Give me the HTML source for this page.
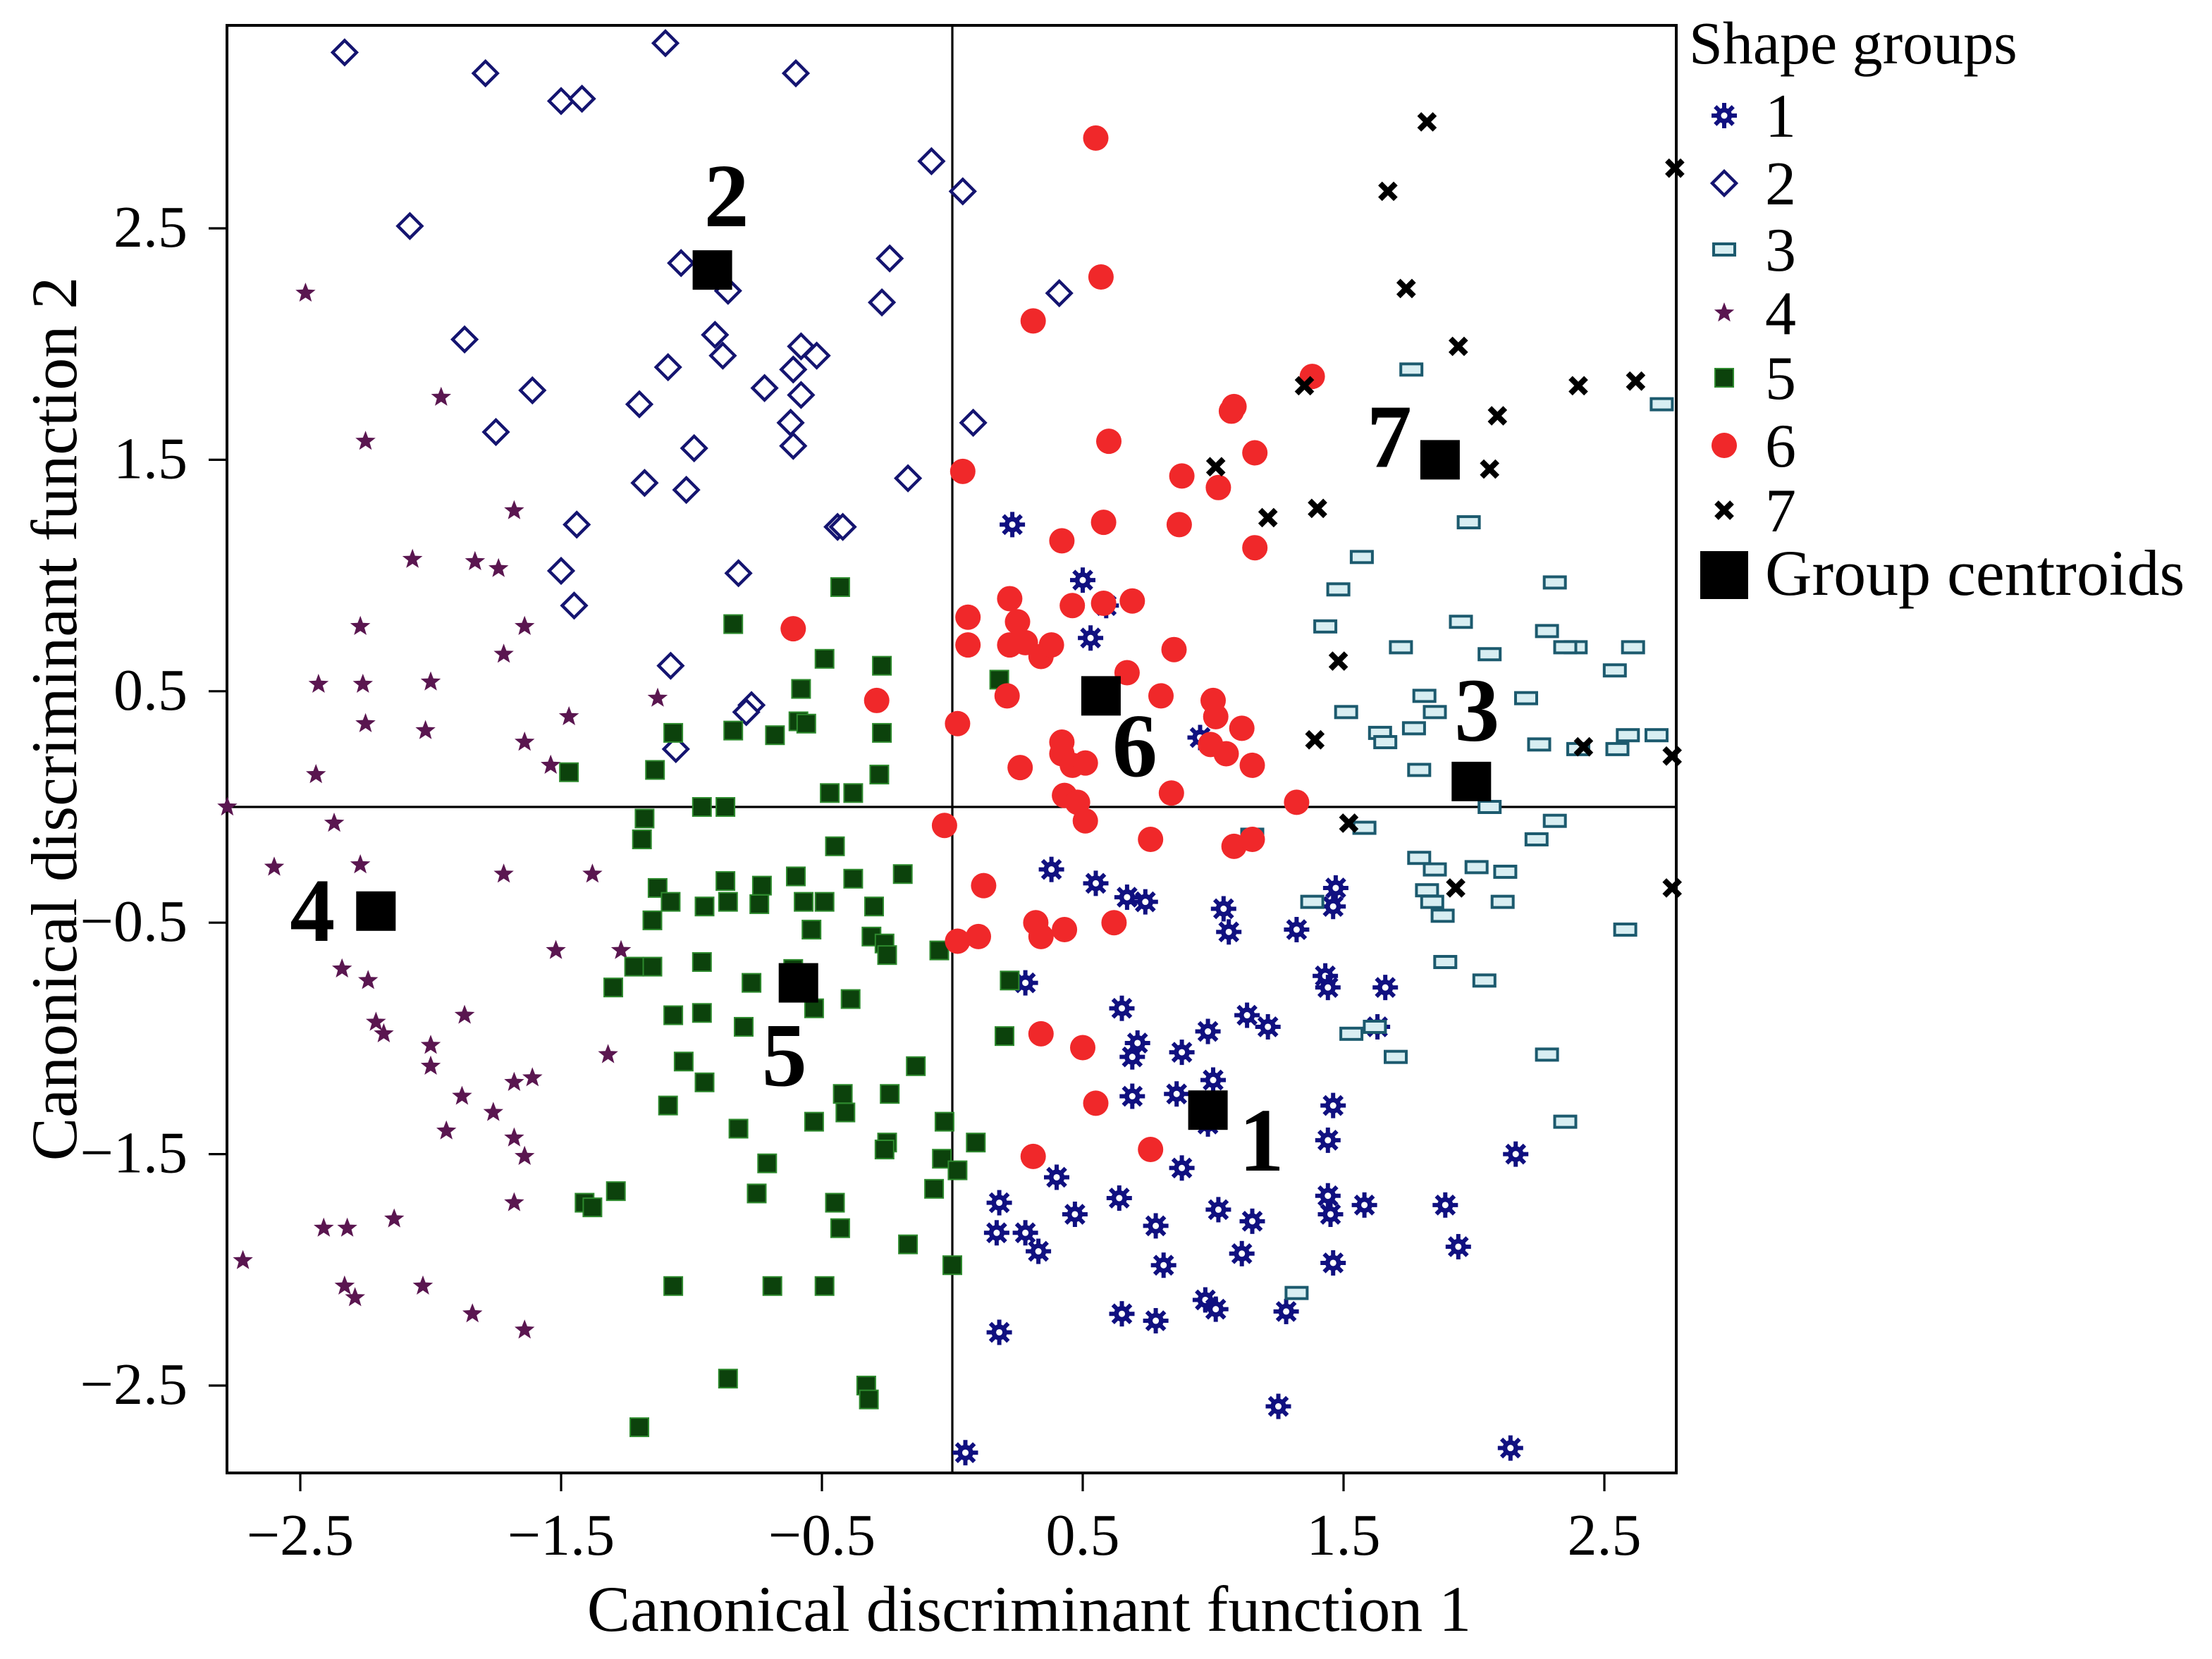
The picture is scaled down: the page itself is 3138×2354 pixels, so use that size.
<!DOCTYPE html>
<html><head><meta charset="utf-8"><style>
html,body{margin:0;padding:0;background:#fff;}
svg{display:block;}
text{font-family:"Liberation Serif",serif;fill:#000;}
</style></head><body>
<svg id="chart" width="3138" height="2354" viewBox="0 0 1569 1177" xmlns="http://www.w3.org/2000/svg">
<rect x="161" y="18" width="1028" height="1027" fill="#fff" stroke="#000" stroke-width="2"/>
<g id="axes"></g>
<g id="marks"></g>
<g id="legend"></g>
<text x="730" y="1157" font-size="46" text-anchor="middle">Canonical discriminant function 1</text>
<text x="0" y="0" font-size="46" text-anchor="middle" transform="translate(54,510) rotate(-90)">Canonical discriminant function 2</text>
</svg>
<script>
const xTicks=[-2.5,-1.5,-0.5,0.5,1.5,2.5];
const yTicks=[2.5,1.5,0.5,-0.5,-1.5,-2.5];
const g1x=[0.23,0.50,0.53,0.59,0.95,0.38,0.55,0.67,0.74,1.04,1.06,1.47,1.46,1.32,0.28,0.65,0.71,0.98,1.13,1.21,1.43,1.44,1.66,1.63,0.69,0.88,0.86,1.00,0.69,0.98,1.46,1.44,2.16,0.88,0.40,0.18,0.64,0.17,0.28,0.33,0.47,0.78,1.02,1.15,1.44,1.45,1.58,1.89,1.94,0.81,1.11,1.46,0.65,0.78,0.97,1.01,1.28,0.18,1.25,0.05,2.14];
const g1y=[1.22,0.98,0.73,0.87,0.30,-0.27,-0.33,-0.39,-0.41,-0.44,-0.54,-0.35,-0.43,-0.53,-0.76,-0.87,-1.02,-0.97,-0.90,-0.95,-0.73,-0.78,-0.78,-0.95,-1.08,-1.06,-1.24,-1.18,-1.25,-1.37,-1.29,-1.44,-1.50,-1.56,-1.60,-1.71,-1.69,-1.84,-1.84,-1.92,-1.76,-1.81,-1.74,-1.79,-1.68,-1.76,-1.72,-1.72,-1.90,-1.98,-1.93,-1.97,-2.19,-2.22,-2.13,-2.17,-2.18,-2.27,-2.59,-2.79,-2.77];
const g2x=[-2.33,-1.79,-1.50,-1.42,-1.10,-0.60,-0.08,0.04,-2.08,-1.04,-0.86,-0.24,-0.27,0.41,-1.87,-0.91,-0.88,-0.58,-0.52,-0.61,-1.61,-1.09,-0.72,-0.58,-1.20,-0.62,-1.75,-0.99,-0.61,0.08,-0.17,-1.18,-1.02,-1.44,-0.44,-0.42,-1.50,-0.82,-1.45,-1.08,-0.77,-0.79,-1.06];
const g2y=[3.26,3.17,3.05,3.06,3.30,3.17,2.79,2.66,2.51,2.35,2.23,2.37,2.18,2.22,2.02,2.04,1.95,1.99,1.95,1.89,1.80,1.90,1.81,1.78,1.74,1.66,1.62,1.55,1.56,1.66,1.42,1.40,1.37,1.22,1.21,1.21,1.02,1.01,0.87,0.61,0.44,0.41,0.25];
const g3x=[1.76,2.72,1.98,1.57,1.48,2.31,1.43,1.95,2.28,2.39,2.35,1.72,2.06,2.61,2.54,1.81,2.20,1.51,1.85,1.64,1.66,1.77,2.25,2.40,2.59,2.70,2.55,1.79,2.06,1.15,1.58,2.31,2.24,1.79,1.85,2.01,2.12,1.82,1.84,1.38,1.88,2.11,1.89,2.04,2.58,1.62,1.53,1.70,2.28,2.35,1.32];
const g3y=[1.89,1.74,1.23,1.08,0.94,0.97,0.78,0.80,0.76,0.69,0.69,0.69,0.66,0.69,0.59,0.48,0.47,0.41,0.41,0.32,0.28,0.34,0.27,0.25,0.31,0.31,0.25,0.16,0.00,-0.12,-0.09,-0.06,-0.14,-0.22,-0.27,-0.26,-0.28,-0.36,-0.41,-0.41,-0.47,-0.41,-0.67,-0.75,-0.53,-0.95,-0.98,-1.08,-1.07,-1.36,-2.10];
const g4x=[-2.48,-2.25,-1.96,-1.68,-2.07,-1.83,-1.74,-2.27,-1.64,-1.72,-2.43,-2.26,-2.00,-2.25,-2.02,-1.13,-1.47,-1.64,-1.54,-2.44,-2.78,-2.37,-2.60,-2.27,-1.72,-1.38,-2.34,-2.24,-2.21,-2.18,-1.27,-1.52,-1.87,-2.00,-2.00,-1.32,-1.68,-1.61,-1.88,-1.76,-1.94,-1.68,-1.64,-1.68,-2.14,-2.41,-2.32,-2.72,-2.33,-2.29,-2.03,-1.84,-1.64];
const g4y=[2.22,1.58,1.77,1.28,1.07,1.06,1.03,0.78,0.78,0.66,0.53,0.53,0.54,0.36,0.33,0.47,0.39,0.28,0.18,0.14,0.00,-0.07,-0.26,-0.25,-0.29,-0.29,-0.70,-0.75,-0.93,-0.98,-0.62,-0.62,-0.90,-1.03,-1.12,-1.07,-1.19,-1.17,-1.25,-1.32,-1.40,-1.43,-1.51,-1.71,-1.78,-1.82,-1.82,-1.96,-2.07,-2.12,-2.07,-2.19,-2.26];
const g5x=[-0.43,-0.84,-0.49,-0.27,-0.58,-1.07,-0.84,-0.68,-0.59,-0.56,-0.27,-1.47,-1.14,-0.47,-0.38,-0.28,-0.96,-0.87,-1.18,-1.19,-0.45,-0.60,-0.38,-0.19,-1.13,-1.08,-0.87,-0.86,-0.95,-0.73,-0.57,-1.15,-0.74,-0.49,-0.30,-0.54,-0.31,-0.26,-0.25,-1.22,-1.30,-1.15,-0.96,-0.96,-0.77,-0.39,-0.53,-0.80,-0.61,-0.05,0.22,0.20,-1.07,-1.03,-0.95,-0.14,-0.24,-0.42,-0.41,-1.09,-0.82,-0.53,-0.25,-0.26,-0.03,0.09,-0.71,-0.75,-0.04,0.02,-0.07,-1.41,-1.38,-1.29,-0.45,-0.43,-0.17,-1.07,-0.69,-0.49,0.00,-0.86,-0.33,-0.32,-1.20,0.18];
const g5y=[0.95,0.79,0.64,0.61,0.51,0.32,0.33,0.31,0.37,0.36,0.32,0.15,0.16,0.06,0.06,0.14,0.00,0.00,-0.05,-0.14,-0.17,-0.30,-0.31,-0.29,-0.35,-0.41,-0.32,-0.41,-0.43,-0.34,-0.41,-0.49,-0.42,-0.41,-0.43,-0.53,-0.56,-0.59,-0.64,-0.69,-0.78,-0.69,-0.67,-0.89,-0.76,-0.83,-0.87,-0.95,-0.70,-0.62,-0.75,-0.99,-0.90,-1.10,-1.19,-1.12,-1.24,-1.24,-1.32,-1.29,-1.39,-1.36,-1.45,-1.48,-1.36,-1.45,-1.54,-1.67,-1.52,-1.57,-1.65,-1.71,-1.73,-1.66,-1.71,-1.82,-1.89,-2.07,-2.07,-2.07,-1.98,-2.47,-2.50,-2.56,-2.68,0.55];
const g6x=[0.55,0.57,0.31,1.38,1.07,1.08,0.60,1.16,0.04,0.88,1.02,0.58,0.87,0.42,1.16,0.06,0.22,0.25,0.28,0.34,0.38,0.46,0.58,0.69,0.06,0.22,0.85,-0.61,-0.29,0.67,0.80,0.21,1.00,1.01,1.11,0.02,0.42,0.42,0.26,0.46,0.51,0.99,1.05,1.15,0.43,0.48,0.51,0.84,1.32,-0.03,0.76,1.08,1.15,0.12,0.02,0.10,0.32,0.43,0.34,0.62,0.34,0.50,0.55,0.31,0.76];
const g6y=[2.89,2.29,2.10,1.86,1.71,1.73,1.58,1.53,1.45,1.43,1.38,1.23,1.22,1.15,1.12,0.82,0.90,0.80,0.71,0.65,0.70,0.87,0.88,0.89,0.70,0.70,0.68,0.77,0.46,0.58,0.48,0.48,0.46,0.39,0.34,0.36,0.28,0.23,0.17,0.18,0.19,0.27,0.23,0.18,0.05,0.02,-0.06,0.06,0.02,-0.08,-0.14,-0.17,-0.14,-0.34,-0.58,-0.56,-0.50,-0.53,-0.56,-0.50,-0.98,-1.04,-1.28,-1.51,-1.48];
const g7x=[1.82,1.67,1.74,1.94,2.40,2.62,1.35,2.09,2.77,1.01,2.06,1.40,1.21,1.48,1.39,2.42,2.76,1.52,1.93,2.76];
const g7y=[2.96,2.66,2.24,1.99,1.82,1.84,1.82,1.69,2.76,1.47,1.46,1.29,1.25,0.63,0.29,0.26,0.22,-0.07,-0.35,-0.35];
const centroidLabels=["1","2","3","4","5","6","7"];
const centroidX=[0.98,-0.92,1.99,-2.21,-0.59,0.57,1.87];
const centroidY=[-1.31,2.32,0.11,-0.45,-0.76,0.48,1.50];
const groupLabels=["1","2","3","4","5","6","7"];

const NS="http://www.w3.org/2000/svg";
const sx=v=>675.5+v*185;
const sy=v=>572.5-v*164.2;
function el(tag,attrs,parent){const e=document.createElementNS(NS,tag);for(const k in attrs)e.setAttribute(k,attrs[k]);parent.appendChild(e);return e;}
const axes=document.getElementById('axes'), marks=document.getElementById('marks'), legend=document.getElementById('legend');

let zl=el('line',{x1:sx(0),x2:sx(0),y1:18,y2:1045,stroke:'#000','stroke-width':1.6},axes);


zl=el('line',{x1:161,x2:1189,y1:sy(0),y2:sy(0),stroke:'#000','stroke-width':1.6},axes);


xTicks.forEach(t=>{
  const l=el('line',{x1:sx(t),x2:sx(t),y1:1045,y2:1058,stroke:'#000','stroke-width':1.6},axes);
  
  
  const tx=el('text',{x:sx(t),y:1103,'font-size':42,'text-anchor':'middle'},axes);
  tx.textContent=(t<0?'\u2212':'')+Math.abs(t).toFixed(1);
  
  
});
yTicks.forEach(t=>{
  const l=el('line',{x1:148,x2:161,y1:sy(t),y2:sy(t),stroke:'#000','stroke-width':1.6},axes);
  
  
  const tx=el('text',{x:133,y:sy(t)+13,'font-size':42,'text-anchor':'end'},axes);
  tx.textContent=(t<0?'\u2212':'')+Math.abs(t).toFixed(1);
  
  
});

function gear(x,y,p,r){
  const g=el('g',{},p);
  for(let i=0;i<8;i++){const a=i*Math.PI/4;el('line',{x1:x,y1:y,x2:x+r*Math.cos(a),y2:y+r*Math.sin(a),stroke:'#101080','stroke-width':3},g);}
  el('circle',{cx:x,cy:y,r:r*0.62,fill:'#101080'},g);
  el('circle',{cx:x,cy:y,r:r*0.25,fill:'#fff'},g);
  return g;
}
function star(x,y,p,r){
  let pts=[];for(let i=0;i<10;i++){const a=-Math.PI/2+i*Math.PI/5;const rr=i%2?r*0.42:r;pts.push((x+rr*Math.cos(a)).toFixed(1)+','+(y+rr*Math.sin(a)).toFixed(1));}
  return el('polygon',{points:pts.join(' '),fill:'#5a1650'},p);
}
function drawMarker(gi,x,y,p){
  if(gi===0) return gear(x,y,p,9);
  if(gi===1) return el('polygon',{points:`${x},${y-8.5} ${x+8.5},${y} ${x},${y+8.5} ${x-8.5},${y}`,fill:'#fff',stroke:'#141470','stroke-width':2.2},p);
  if(gi===2) return el('rect',{x:x-7.5,y:y-4,width:15,height:8,fill:'#d8eef2',stroke:'#1c5a6e','stroke-width':2},p);
  if(gi===3) return star(x,y,p,7.5);
  if(gi===4) return el('rect',{x:x-6.5,y:y-6.5,width:13,height:13,fill:'#0c420c',stroke:'#2e8a2e','stroke-width':1},p);
  if(gi===5) return el('circle',{cx:x,cy:y,r:9,fill:'#f0282a'},p);
  const g=el('g',{},p);
  el('line',{x1:x-5.5,y1:y-5.5,x2:x+5.5,y2:y+5.5,stroke:'#000','stroke-width':4},g);
  el('line',{x1:x-5.5,y1:y+5.5,x2:x+5.5,y2:y-5.5,stroke:'#000','stroke-width':4},g);
  return g;
}
const groupsX=[g1x,g2x,g3x,g4x,g5x,g6x,g7x];
const groupsY=[g1y,g2y,g3y,g4y,g5y,g6y,g7y];
groupsX.forEach((xs,gi)=>{
  xs.forEach((v,i)=>{
    const m=drawMarker(gi,sx(v),sy(groupsY[gi][i]),marks);
    
    
  });
});
const labelOff=[[38,22],[10,-52],[4,-50],[-45,0],[-10,52],[24,36],[-36,-16]];
centroidX.forEach((v,i)=>{
  const x=sx(v),y=sy(centroidY[i]);
  const r=el('rect',{x:x-14,y:y-14,width:28,height:28,fill:'#000'},marks);
  
  
  const t=el('text',{x:x+labelOff[i][0],y:y+labelOff[i][1]+21,'font-size':64,'font-weight':'bold','text-anchor':'middle'},marks);
  t.textContent=centroidLabels[i];
  
  
});
const lt=el('text',{x:1198,y:45,'font-size':43},legend);
lt.textContent='Shape groups';


const rowsY=[82,130,177,222,268,316,362];
groupLabels.forEach((lab,i)=>{
  const m=drawMarker(i,1223,rowsY[i],legend);
  
  
  const t=el('text',{x:1252,y:rowsY[i]+15,'font-size':44},legend);
  t.textContent=lab;
  
  
});
const cm=el('rect',{x:1206,y:391,width:34,height:34,fill:'#000'},legend);


const ct=el('text',{x:1252,y:422,'font-size':46},legend);
ct.textContent='Group centroids';


</script>
</body></html>
